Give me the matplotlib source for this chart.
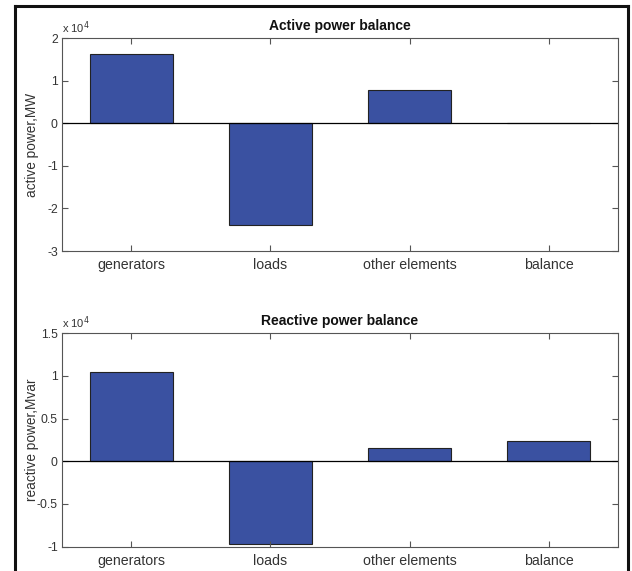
import matplotlib
matplotlib.use("Agg")
import matplotlib.pyplot as plt
from matplotlib.lines import Line2D
from matplotlib.ticker import FuncFormatter

plt.rcParams["font.family"] = ["Liberation Sans", "DejaVu Sans"]

# ── Data (values in MW / Mvar) ───────────────────────────────────────────────
categories = ["generators", "loads", "other elements", "balance"]
active_mw = [16200, -24000, 7900, 0]
reactive_mvar = [10470, -9730, 1600, 2340]

BAR_COLOR = "#3a51a1"
TXT = "#333333"

fig = plt.figure(figsize=(6.32, 5.71), dpi=100)
ax1 = fig.add_axes([0.098, 0.5604, 0.880, 0.373])
ax2 = fig.add_axes([0.098, 0.0426, 0.880, 0.374])

fmt = FuncFormatter(lambda v, p: f"{v / 1e4:g}")


def draw(ax, values, title, ylabel, ylim, yticks):
    x = range(1, len(values) + 1)
    ax.bar(x, values, width=0.6, color=BAR_COLOR, edgecolor="#222222", linewidth=0.8)
    ax.axhline(0, color="black", lw=0.9)
    ax.set_xlim(0.5, len(values) + 0.5)
    ax.set_ylim(*ylim)
    ax.set_xticks(list(x))
    ax.set_xticklabels(categories, fontsize=10.2, color=TXT)
    ax.set_yticks(yticks)
    ax.yaxis.set_major_formatter(fmt)
    ax.tick_params(direction="in", top=True, right=True, length=4, width=0.8,
                   colors="#555555", labelcolor=TXT)
    ax.tick_params(axis="y", labelsize=8.8, pad=3)
    ax.tick_params(axis="x", pad=5)
    for s in ax.spines.values():
        s.set_color("#555555")
        s.set_linewidth(0.8)
    ax.set_title(title, fontsize=10, fontweight="bold", color="#111111", pad=6)
    ax.set_ylabel(ylabel, fontsize=9.8, color=TXT)
    ax.yaxis.set_label_coords(-0.042, 0.5)
    ax.text(0.0, 1.01, r"x 10$^{4}$", transform=ax.transAxes, fontsize=8,
            color=TXT, ha="left", va="bottom")


draw(ax1, active_mw, "Active power balance", "active power,MW",
     (-30000, 20000), [-30000, -20000, -10000, 0, 10000, 20000])
draw(ax2, reactive_mvar, "Reactive power balance", "reactive power,Mvar",
     (-10000, 15000), [-10000, -5000, 0, 5000, 10000, 15000])

# outer frame (left, top, right edges)
W, H = 632, 571
fx = lambda px: px / W
fy = lambda py: 1 - py / H
frame = [([fx(15), fx(15)], [fy(6), 0]),
         ([fx(15), fx(628)], [fy(6), fy(6)]),
         ([fx(628), fx(628)], [fy(6), 0])]
for xs, ys in frame:
    fig.add_artist(Line2D(xs, ys, transform=fig.transFigure, color="#111111", lw=2.2))

fig.savefig("out.png", dpi=100)
